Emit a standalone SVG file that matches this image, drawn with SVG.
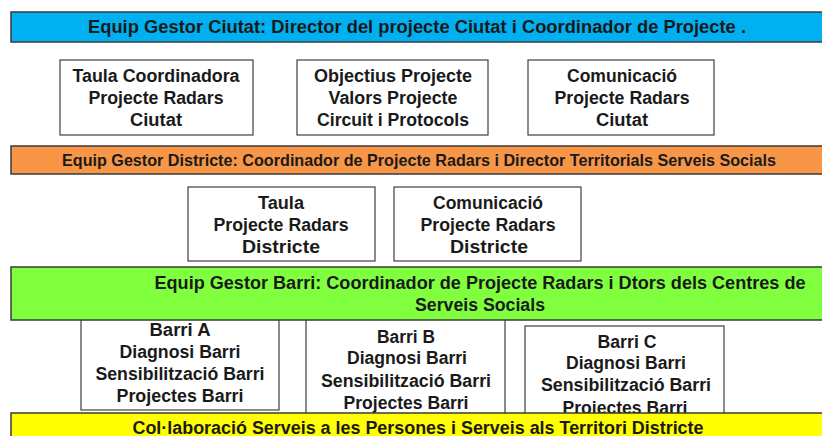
<svg xmlns="http://www.w3.org/2000/svg" width="822" height="436" viewBox="0 0 822 436">
<style>
.bar{stroke:#3a3a3a;stroke-width:1.5}
.box{fill:#fff;stroke:#404040;stroke-width:1.2}
text{font-family:"Liberation Sans",Arial,sans-serif;font-weight:bold;font-size:18px;fill:#1a1a1a;text-anchor:middle;dominant-baseline:central}
.o{font-size:16.5px}
</style>
<rect width="822" height="436" fill="#fff"/>
<g id="connectors"></g>
<g id="ciutat-bar">
<rect class="bar" x="11" y="12" width="815" height="30" fill="#00B0F0"/>
<text x="417" y="27" textLength="658" lengthAdjust="spacingAndGlyphs">Equip Gestor Ciutat: Director del projecte Ciutat i Coordinador  de Projecte .</text>
</g>
<g id="taula-ciutat">
<rect class="box" x="60" y="60" width="193" height="75"/>
<text x="156" y="76" textLength="167" lengthAdjust="spacingAndGlyphs">Taula Coordinadora</text>
<text x="156" y="98" textLength="135" lengthAdjust="spacingAndGlyphs">Projecte Radars</text>
<text x="156" y="120" textLength="52" lengthAdjust="spacingAndGlyphs">Ciutat</text>
</g>
<g id="objectius">
<rect class="box" x="297" y="60" width="191" height="75"/>
<text x="393" y="76" textLength="158" lengthAdjust="spacingAndGlyphs">Objectius Projecte</text>
<text x="393" y="98" textLength="129" lengthAdjust="spacingAndGlyphs">Valors Projecte</text>
<text x="393" y="120" textLength="152" lengthAdjust="spacingAndGlyphs">Circuit i Protocols</text>
</g>
<g id="comunicacio-ciutat">
<rect class="box" x="528" y="60" width="186" height="75"/>
<text x="622" y="76" textLength="110" lengthAdjust="spacingAndGlyphs">Comunicació</text>
<text x="622" y="98" textLength="135" lengthAdjust="spacingAndGlyphs">Projecte Radars</text>
<text x="622" y="120" textLength="52" lengthAdjust="spacingAndGlyphs">Ciutat</text>
</g>
<g id="districte-bar">
<rect class="bar" x="11" y="146" width="815" height="28" fill="#F79646"/>
<text class="o" x="419" y="160" textLength="714" lengthAdjust="spacingAndGlyphs">Equip Gestor Districte: Coordinador de Projecte Radars i Director Territorials Serveis Socials</text>
</g>
<g id="taula-districte">
<rect class="box" x="188" y="187" width="187" height="74"/>
<text x="281" y="203" textLength="46" lengthAdjust="spacingAndGlyphs">Taula</text>
<text x="281" y="225" textLength="135" lengthAdjust="spacingAndGlyphs">Projecte Radars</text>
<text x="281" y="247" textLength="78" lengthAdjust="spacingAndGlyphs">Districte</text>
</g>
<g id="comunicacio-districte">
<rect class="box" x="394" y="187" width="187" height="74"/>
<text x="488" y="203" textLength="110" lengthAdjust="spacingAndGlyphs">Comunicació</text>
<text x="488" y="225" textLength="135" lengthAdjust="spacingAndGlyphs">Projecte Radars</text>
<text x="489" y="247" textLength="78" lengthAdjust="spacingAndGlyphs">Districte</text>
</g>
<g id="barri-a">
<rect class="box" x="81" y="316" width="198" height="94"/>
<text x="180" y="330" textLength="61" lengthAdjust="spacingAndGlyphs">Barri A</text>
<text x="180" y="352" textLength="121" lengthAdjust="spacingAndGlyphs">Diagnosi Barri</text>
<text x="180" y="374" textLength="169" lengthAdjust="spacingAndGlyphs">Sensibilització Barri</text>
<text x="180" y="396" textLength="127" lengthAdjust="spacingAndGlyphs">Projectes Barri</text>
</g>
<g id="barri-b">
<rect class="box" x="306" y="316" width="199" height="100"/>
<text x="406" y="337" textLength="58" lengthAdjust="spacingAndGlyphs">Barri B</text>
<text x="407" y="358" textLength="120" lengthAdjust="spacingAndGlyphs">Diagnosi Barri</text>
<text x="406" y="381" textLength="170" lengthAdjust="spacingAndGlyphs">Sensibilització Barri</text>
<text x="406" y="403" textLength="125" lengthAdjust="spacingAndGlyphs">Projectes Barri</text>
</g>
<g id="barri-c">
<rect class="box" x="525" y="326" width="199" height="95"/>
<text x="627" y="342" textLength="59" lengthAdjust="spacingAndGlyphs">Barri C</text>
<text x="626" y="363" textLength="120" lengthAdjust="spacingAndGlyphs">Diagnosi Barri</text>
<text x="626" y="385" textLength="170" lengthAdjust="spacingAndGlyphs">Sensibilització Barri</text>
<text x="625" y="408" textLength="125" lengthAdjust="spacingAndGlyphs">Projectes Barri</text>
</g>
<g id="barri-bar">
<rect class="bar" x="11" y="267" width="815" height="53" fill="#80FF3F"/>
<text x="480" y="283" textLength="651" lengthAdjust="spacingAndGlyphs">Equip Gestor Barri: Coordinador  de Projecte Radars i Dtors dels Centres de</text>
<text x="480" y="305" textLength="130" lengthAdjust="spacingAndGlyphs">Serveis Socials</text>
</g>
<g id="collaboracio-bar">
<rect class="bar" x="11" y="413" width="815" height="30" fill="#FFFF00"/>
<text x="418" y="428" textLength="571" lengthAdjust="spacingAndGlyphs">Col·laboració  Serveis a les Persones i Serveis als Territori Districte</text>
</g>
</svg>
